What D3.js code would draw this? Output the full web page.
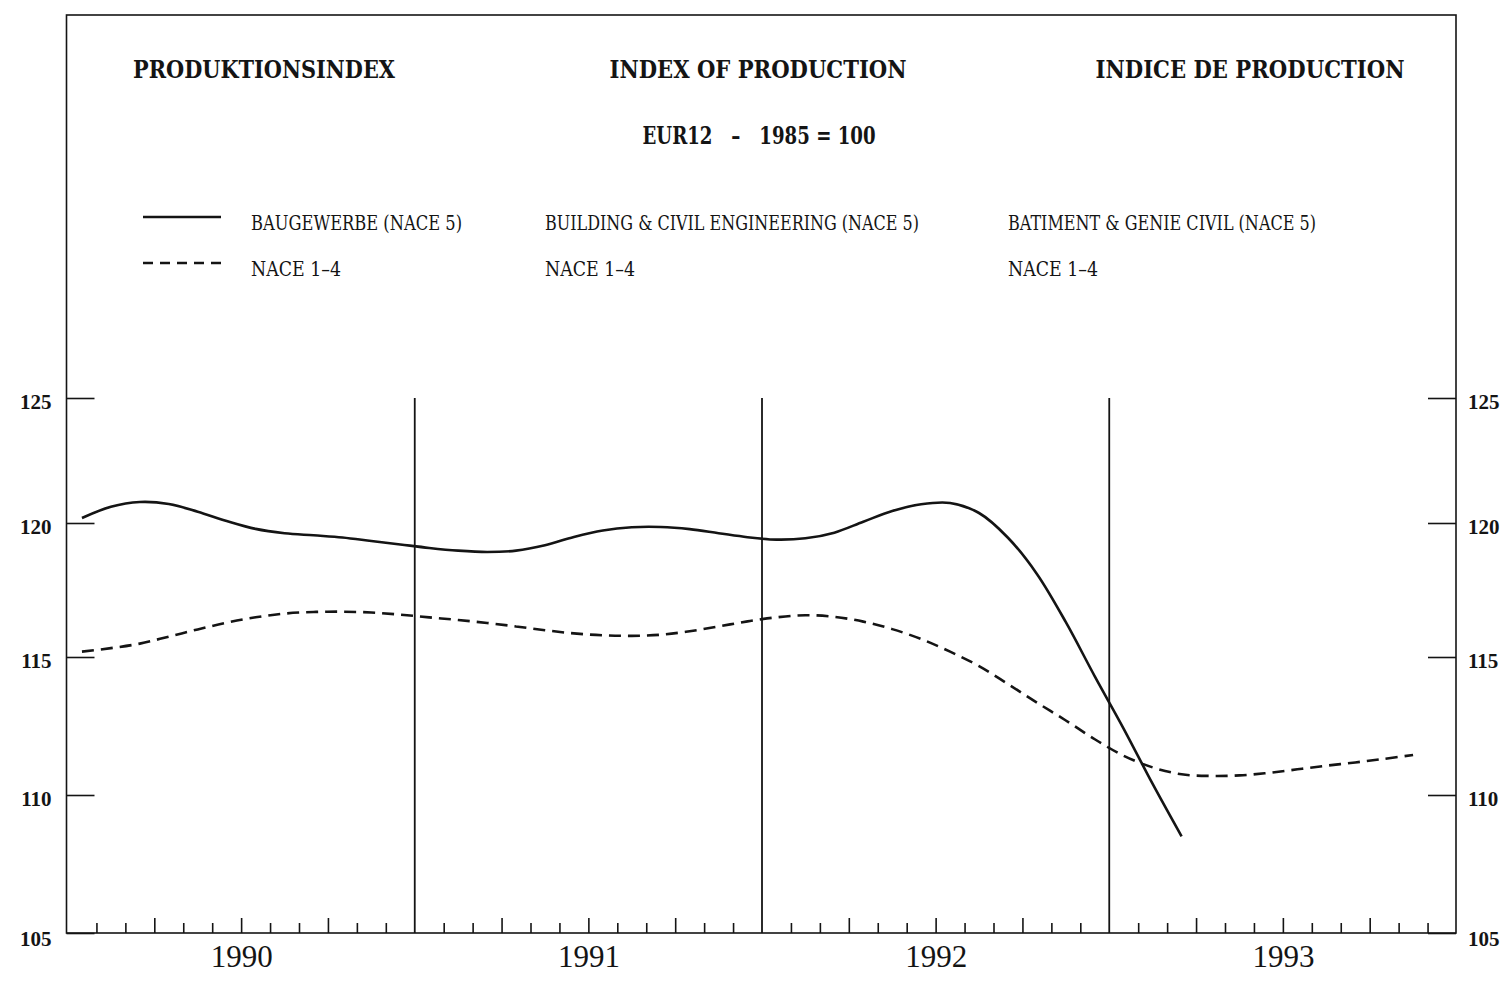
<!DOCTYPE html>
<html>
<head>
<meta charset="utf-8">
<script src="https://cdn.jsdelivr.net/npm/d3@7"></script>
<style>
  body { margin: 0; background: #ffffff; }
  svg { display: block; }
</style>
</head>
<body>
<svg id="chart" width="1506" height="985"></svg>
<script>
// Monthly index values, EUR12, 1985 = 100, starting January 1990
const years = ["1990", "1991", "1992", "1993"];
const yTicks = [105, 110, 115, 120, 125];

// Building & civil engineering (NACE 5), Jan 1990 – Mar 1993
const nace5 = [
  120.2, 120.65, 120.84, 120.76, 120.45, 120.08, 119.78, 119.62, 119.54, 119.46, 119.33, 119.2,
  119.07, 118.97, 118.92, 118.97, 119.17, 119.48, 119.72, 119.84, 119.85, 119.77, 119.62, 119.47,
  119.38, 119.43, 119.64, 120.05, 120.48, 120.75, 120.8, 120.4, 119.45, 118.1, 116.3, 114.3,
  112.4, 110.4, 108.5
];

// Industry (NACE 1-4), Jan 1990 – Nov 1993
const nace14 = [
  115.2, 115.33, 115.5, 115.76, 116.03, 116.28, 116.48, 116.62, 116.68, 116.69, 116.66, 116.58,
  116.48, 116.38, 116.27, 116.14, 116.0, 115.88, 115.81, 115.79, 115.83, 115.96, 116.14, 116.33,
  116.48, 116.56, 116.5, 116.32, 116.04, 115.67, 115.2, 114.67, 114.02, 113.35, 112.7, 112.02,
  111.42, 111.0, 110.75, 110.69, 110.71, 110.8, 110.93, 111.06, 111.18, 111.31, 111.45
];

const titles = ["PRODUKTIONSINDEX", "INDEX OF PRODUCTION", "INDICE DE PRODUCTION"];
const subtitle = "EUR12\u00a0\u00a0\u00a0\u2013\u00a0\u00a0\u00a01985\u00a0=\u00a0100";
const legendNace5 = ["BAUGEWERBE (NACE 5)", "BUILDING & CIVIL ENGINEERING (NACE 5)", "BATIMENT & GENIE CIVIL (NACE 5)"];
const legendNace14 = ["NACE 1\u20134", "NACE 1\u20134", "NACE 1\u20134"];

const svg = d3.select("#chart");
const ink = "#141414";

const frame = { left: 66.5, right: 1456, top: 15, bottom: 933 };

// Month scale: 0 = start of January 1990, 48 = end of December 1993
const x = d3.scaleLinear().domain([0, 48]).range([67.5, 1456.5]);
// Piecewise value scale following the printed tick spacing
const y = d3.scaleLinear().domain(yTicks).range([933, 795, 657, 523, 398]);

// Outer frame
svg.append("rect")
  .attr("x", frame.left).attr("y", frame.top)
  .attr("width", frame.right - frame.left).attr("height", frame.bottom - frame.top)
  .attr("fill", "none").attr("stroke", ink).attr("stroke-width", 1.6);

// Headings
const headFont = "'DejaVu Serif Condensed', 'DejaVu Serif', serif";
const titleX = [264, 758, 1250];
const titleW = [262, 297, 309];
svg.selectAll("text.title").data(titles).join("text")
  .attr("class", "title")
  .attr("x", (d, i) => titleX[i]).attr("y", 78)
  .attr("text-anchor", "middle")
  .attr("textLength", (d, i) => titleW[i]).attr("lengthAdjust", "spacingAndGlyphs")
  .style("font-family", headFont)
  .style("font-weight", "bold").style("font-size", "25px").attr("fill", ink)
  .text(d => d);

svg.append("text")
  .attr("x", 759).attr("y", 144).attr("text-anchor", "middle")
  .attr("textLength", 233).attr("lengthAdjust", "spacingAndGlyphs")
  .style("font-family", headFont)
  .style("font-weight", "bold").style("font-size", "24px").attr("fill", ink)
  .text(subtitle);

// Legend
const legend = svg.append("g");
legend.append("line").attr("x1", 143).attr("x2", 221).attr("y1", 217).attr("y2", 217)
  .attr("stroke", ink).attr("stroke-width", 2.5);
legend.append("line").attr("x1", 143).attr("x2", 221).attr("y1", 263).attr("y2", 263)
  .attr("stroke", ink).attr("stroke-width", 2.5).attr("stroke-dasharray", "10,7");

const legendX = [251, 545, 1008];
const legend5W = [211, 374, 308];
const legend14W = [90, 90, 90];
const legendFont = "'DejaVu Serif Condensed', 'DejaVu Serif', serif";
legend.selectAll("text.l5").data(legendNace5).join("text")
  .attr("class", "l5")
  .attr("x", (d, i) => legendX[i]).attr("y", 230)
  .attr("textLength", (d, i) => legend5W[i]).attr("lengthAdjust", "spacingAndGlyphs")
  .style("font-family", legendFont).style("font-size", "20px").attr("fill", ink)
  .text(d => d);
legend.selectAll("text.l14").data(legendNace14).join("text")
  .attr("class", "l14")
  .attr("x", (d, i) => legendX[i]).attr("y", 276)
  .attr("textLength", (d, i) => legend14W[i]).attr("lengthAdjust", "spacingAndGlyphs")
  .style("font-family", legendFont).style("font-size", "20px").attr("fill", ink)
  .text(d => d);

// Value axes on both sides, ticks pointing inward
const tickFont = "'Liberation Serif', 'Times New Roman', serif";
const leftAxis = svg.append("g")
  .attr("transform", `translate(${frame.left},0)`)
  .call(d3.axisLeft(y).tickValues(yTicks).tickSize(-28).tickPadding(15).tickFormat(d3.format("d")));
const rightAxis = svg.append("g")
  .attr("transform", `translate(${frame.right},0)`)
  .call(d3.axisRight(y).tickValues(yTicks).tickSize(-28).tickPadding(12).tickFormat(d3.format("d")));
[leftAxis, rightAxis].forEach(g => {
  g.select(".domain").remove();
  g.selectAll("line").attr("stroke", ink).attr("stroke-width", 1.6);
  g.selectAll("text")
    .style("font-family", tickFont).style("font-weight", "bold").style("font-size", "21px")
    .attr("fill", ink).attr("dy", "0.5em");
  g.selectAll(".tick").filter(d => d === 105).select("text").attr("dy", "0.6em");
});

// Month ticks along the time axis, longer at quarter ends
const months = d3.range(1, 48).filter(m => m % 12 !== 0);
const monthAxis = svg.append("g")
  .attr("transform", `translate(0,${frame.bottom})`)
  .call(d3.axisBottom(x).tickValues(months).tickSize(-10).tickFormat(""));
monthAxis.select(".domain").remove();
monthAxis.selectAll("line").attr("stroke", ink).attr("stroke-width", 1.6);
monthAxis.selectAll(".tick").filter(d => d % 3 === 0).select("line").attr("y2", -15);

// Year labels centred under each year
const yearAxis = svg.append("g")
  .attr("transform", `translate(0,${frame.bottom})`)
  .call(d3.axisBottom(x).tickValues(years.map((d, i) => i * 12 + 6)).tickSize(0).tickPadding(12)
    .tickFormat((d, i) => years[i]));
yearAxis.select(".domain").remove();
yearAxis.selectAll("text")
  .style("font-family", tickFont).style("font-size", "31px").attr("fill", ink);

// Year separators
svg.append("g").selectAll("line").data([12, 24, 36]).join("line")
  .attr("x1", d => x(d)).attr("x2", d => x(d))
  .attr("y1", y(105)).attr("y2", y(125))
  .attr("stroke", ink).attr("stroke-width", 1.8);

// Series lines, plotted at mid-month
const line = d3.line()
  .x((d, i) => x(i + 0.5))
  .y(d => y(d))
  .curve(d3.curveCatmullRom.alpha(0.5));

svg.append("path").datum(nace14)
  .attr("d", line)
  .attr("fill", "none").attr("stroke", ink).attr("stroke-width", 2.6)
  .attr("stroke-dasharray", "12,7");

svg.append("path").datum(nace5)
  .attr("d", line)
  .attr("fill", "none").attr("stroke", ink).attr("stroke-width", 2.6);
</script>
</body>
</html>
